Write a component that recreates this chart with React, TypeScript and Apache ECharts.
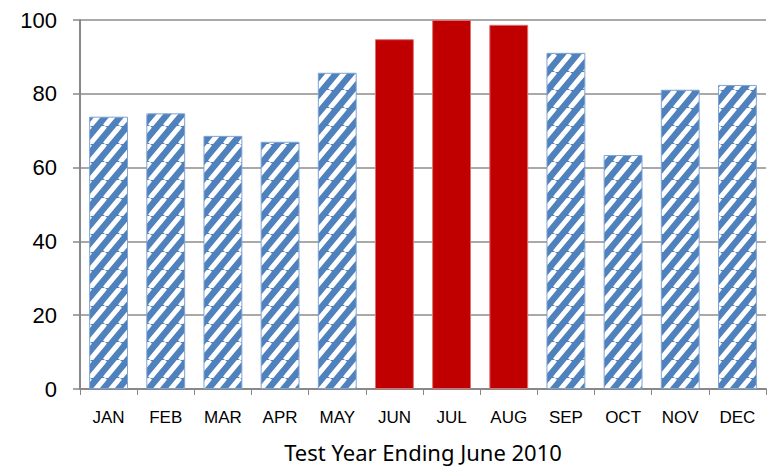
import React, { useEffect, useRef } from "react";
import * as echarts from "echarts";

const months = ["JAN", "FEB", "MAR", "APR", "MAY", "JUN", "JUL", "AUG", "SEP", "OCT", "NOV", "DEC"];
const values = [73.8, 74.7, 68.6, 67.0, 85.7, 94.8, 100, 98.7, 91.1, 63.4, 81.1, 82.4];
const peakMonths = ["JUN", "JUL", "AUG"];
const axisTitle = "Test Year Ending June 2010";

const BLUE = "#4F81BD";
const RED = "#C00000";

// Small tile with a white diagonal stripe, repeated over the blue bars
function makeStripeTile(): HTMLCanvasElement {
  const w = 15;
  const h = 18;
  const c = document.createElement("canvas");
  c.width = w;
  c.height = h;
  const ctx = c.getContext("2d")!;
  ctx.fillStyle = BLUE;
  ctx.fillRect(0, 0, w, h);
  ctx.strokeStyle = "#ffffff";
  ctx.lineWidth = 5;
  for (const dx of [-w, 0, w]) {
    ctx.beginPath();
    ctx.moveTo(dx, h);
    ctx.lineTo(dx + w, 0);
    ctx.stroke();
  }
  return c;
}

export default function App() {
  const ref = useRef<HTMLDivElement>(null);

  useEffect(() => {
    if (!ref.current) return;
    const chart = echarts.init(ref.current, null, { renderer: "svg" });
    const tile = makeStripeTile();
    const stripes: any = {
      image: tile.toDataURL(),
      repeat: "repeat",
      imageWidth: tile.width,
      imageHeight: tile.height,
    };

    const data = months.map((m, i) => {
      const peak = peakMonths.includes(m);
      return {
        value: values[i],
        itemStyle: peak
          ? { color: RED, borderColor: "#E07070", borderWidth: 1 }
          : { color: stripes, borderColor: "#7FA3D1", borderWidth: 1 },
      };
    });

    chart.setOption({
      animation: false,
      grid: { left: 80, right: 5, top: 20, bottom: 74 },
      xAxis: {
        type: "category",
        data: months,
        boundaryGap: true,
        name: axisTitle,
        nameLocation: "middle",
        nameGap: 52,
        nameTextStyle: { fontFamily: "Noto Sans", fontSize: 22, color: "#000" },
        axisLine: { lineStyle: { color: "#888888", width: 2 } },
        axisTick: { show: true, length: 6, alignWithLabel: false, lineStyle: { color: "#888888", width: 1 } },
        axisLabel: { fontFamily: "Liberation Sans", fontSize: 17, color: "#000", margin: 20 },
      },
      yAxis: {
        type: "value",
        min: 0,
        max: 100,
        interval: 20,
        axisLine: { show: true, lineStyle: { color: "#888888", width: 2 } },
        axisTick: { show: true, length: 7, lineStyle: { color: "#888888", width: 1.5 } },
        splitLine: { show: true, lineStyle: { color: "#8C8C8C", width: 1.5 } },
        axisLabel: { fontFamily: "Liberation Sans", fontSize: 22, color: "#000", margin: 23 },
      },
      series: [
        {
          type: "bar",
          data,
          barCategoryGap: "32%",
        },
      ],
    });

    return () => chart.dispose();
  }, []);

  return (
    <div
      ref={ref}
      style={{ position: "fixed", left: 0, top: 0, width: 771, height: 468, background: "#fff" }}
    />
  );
}
